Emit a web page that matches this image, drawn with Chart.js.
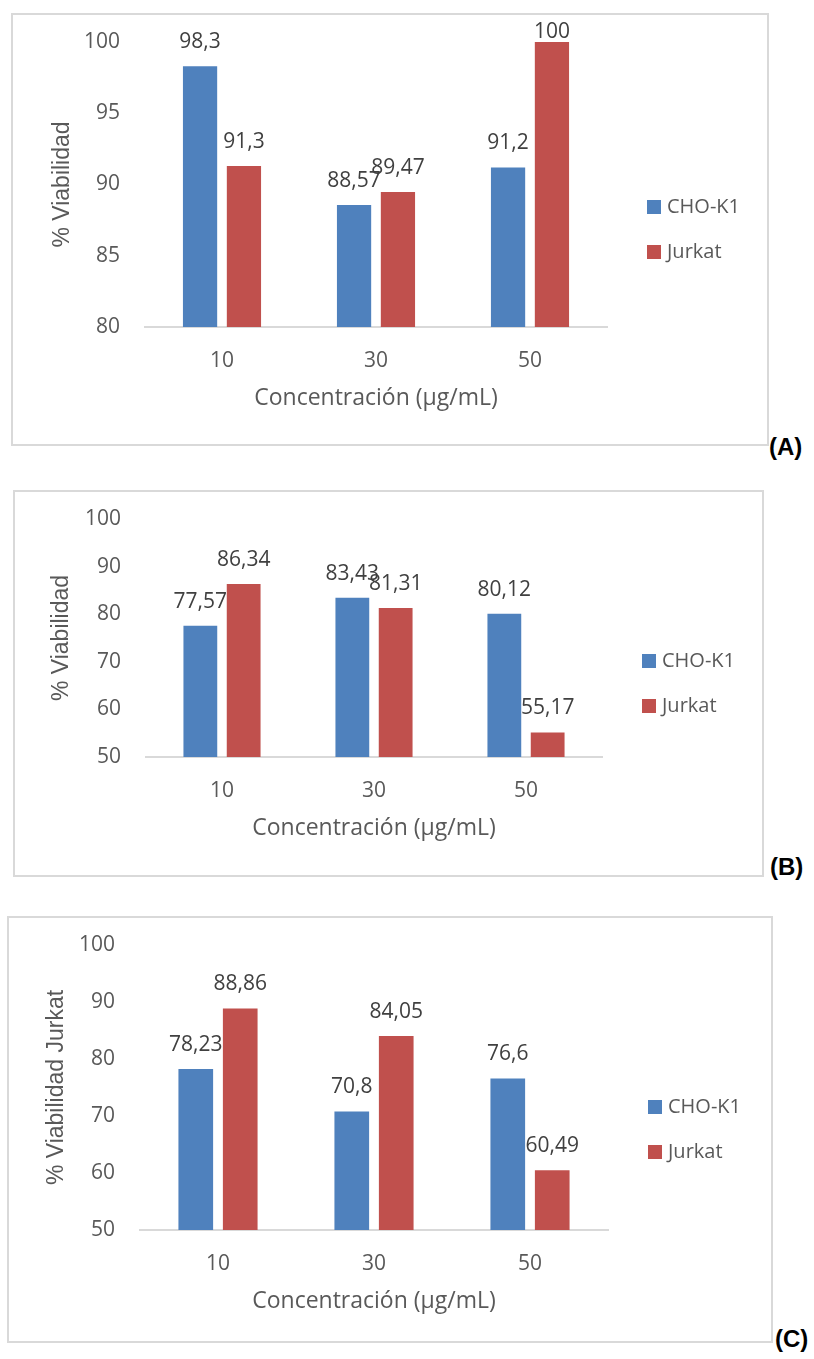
<!DOCTYPE html>
<html lang="es">
<head>
<meta charset="utf-8">
<title>% Viabilidad CHO-K1 / Jurkat</title>
<script src="https://cdn.jsdelivr.net/npm/chart.js@4.4.1/dist/chart.umd.min.js"></script>
<style>
    body { margin: 0; background: #fff; }
    .box { position: absolute; box-sizing: border-box; border: 2px solid #d9d9d9; background: #fff; }
    .box canvas { position: absolute; left: 0; top: 0; }
    .tag { position: absolute; font: bold 24px 'Liberation Sans', Arial, sans-serif; line-height: 24px; color: #000; }
</style>
</head>
<body>
<div class="box" style="left:11px; top:13px; width:758px; height:433px;"><canvas id="chartA" width="754" height="429"></canvas></div>
<div class="tag" style="left:769px; top:435px;">(A)</div>

<div class="box" style="left:13px; top:490px; width:751px; height:387px;"><canvas id="chartB" width="747" height="383"></canvas></div>
<div class="tag" style="left:770px; top:855px;">(B)</div>

<div class="box" style="left:7px; top:916px; width:766px; height:427px;"><canvas id="chartC" width="762" height="423"></canvas></div>
<div class="tag" style="left:775px; top:1327px;">(C)</div>

<script>
// datos
const categories = ['10', '30', '50'];
const seriesNames = ['CHO-K1', 'Jurkat'];

const choA = [98.3, 88.57, 91.2];
const jurkatA = [91.3, 89.47, 100];
const ticksA = [80, 85, 90, 95, 100];

const choB = [77.57, 83.43, 80.12];
const jurkatB = [86.34, 81.31, 55.17];
const ticksB = [50, 60, 70, 80, 90, 100];

const choC = [78.23, 70.8, 76.6];
const jurkatC = [88.86, 84.05, 60.49];
const ticksC = [50, 60, 70, 80, 90, 100];

const xTitle = 'Concentración (µg/mL)';

const BLUE = '#4f81bd';
const RED = '#c0504d';
const GREY = '#595959';
const FONT = "'Open Sans', sans-serif";

// etiquetas de valor encima de cada barra
const barValues = {
    id: 'barValues',
    afterDatasetsDraw(chart) {
        const { ctx, chartArea } = chart;
        ctx.save();
        ctx.font = '21px ' + FONT;
        ctx.fillStyle = '#404040';
        ctx.textAlign = 'center';
        ctx.textBaseline = 'middle';
        chart.data.datasets.forEach((ds, i) => {
            chart.getDatasetMeta(i).data.forEach((bar, j) => {
                const y = Math.max(bar.y - 24, chartArea.top - 10);
                ctx.fillText(String(ds.data[j]).replace('.', ','), bar.x, y);
            });
        });
        ctx.restore();
    }
};

// leyenda a la derecha, centrada en vertical
const sideLegend = {
    id: 'sideLegend',
    afterDraw(chart) {
        const { ctx, chartArea } = chart;
        const sets = chart.data.datasets;
        const gap = 45;
        const midY = chart.height / 2;
        const x = chartArea.right + 40;
        ctx.save();
        ctx.font = '20px ' + FONT;
        ctx.textBaseline = 'middle';
        sets.forEach((ds, i) => {
            const y = midY + (i - (sets.length - 1) / 2) * gap;
            ctx.fillStyle = ds.backgroundColor;
            ctx.fillRect(x, y - 7, 14, 14);
            ctx.fillStyle = GREY;
            ctx.fillText(ds.label, x + 20, y);
        });
        ctx.restore();
    }
};

function makeChart(id, cho, jurkat, yTicks, yTitle, g) {
    const ctx = document.getElementById(id);
    return new Chart(ctx, {
        type: 'bar',
        data: {
            labels: categories,
            datasets: [{
                label: seriesNames[0],
                data: cho,
                backgroundColor: BLUE,
                categoryPercentage: 0.57,
                barPercentage: 0.78
            }, {
                label: seriesNames[1],
                data: jurkat,
                backgroundColor: RED,
                categoryPercentage: 0.57,
                barPercentage: 0.78
            }]
        },
        plugins: [barValues, sideLegend],
        options: {
            responsive: false,
            animation: false,
            layout: {
                padding: { top: g.top, right: g.right, left: 0, bottom: 0 }
            },
            plugins: {
                legend: { display: false },
                tooltip: { enabled: false }
            },
            scales: {
                x: {
                    grid: { display: false, drawTicks: false },
                    border: { display: true, color: '#d9d9d9', width: 2 },
                    ticks: { padding: 21, color: GREY, font: { family: FONT, size: 21 } },
                    title: {
                        display: true,
                        text: xTitle,
                        color: GREY,
                        font: { family: FONT, size: 23 },
                        padding: { top: 0, bottom: g.xh - 71 - 14 }
                    },
                    afterFit: function(scale) { scale.height = g.xh; }
                },
                y: {
                    min: yTicks[0],
                    max: yTicks[yTicks.length - 1],
                    grid: { display: false, drawTicks: false },
                    border: { display: false },
                    ticks: { stepSize: yTicks[1] - yTicks[0], padding: 25, color: GREY, font: { family: FONT, size: 21 } },
                    title: {
                        display: true,
                        text: yTitle,
                        color: GREY,
                        font: { family: "'Liberation Sans', Arial, sans-serif", size: 23 },
                        padding: { top: g.ytx - 14, bottom: 0 }
                    },
                    afterFit: function(scale) {
                        scale.width = g.yw;
                        scale.paddingTop = 0;
                        scale.paddingBottom = 0;
                    }
                }
            }
        }
    });
}

makeChart('chartA', choA, jurkatA, ticksA, '% Viabilidad', { top: 27, right: 160, xh: 117, yw: 132, ytx: 50 });
makeChart('chartB', choB, jurkatB, ticksB, '% Viabilidad', { top: 27, right: 160, xh: 118, yw: 131, ytx: 47 });
makeChart('chartC', choC, jurkatC, ticksC, '% Viabilidad Jurkat', { top: 27, right: 163, xh: 111, yw: 131, ytx: 48 });
</script>
</body>
</html>
